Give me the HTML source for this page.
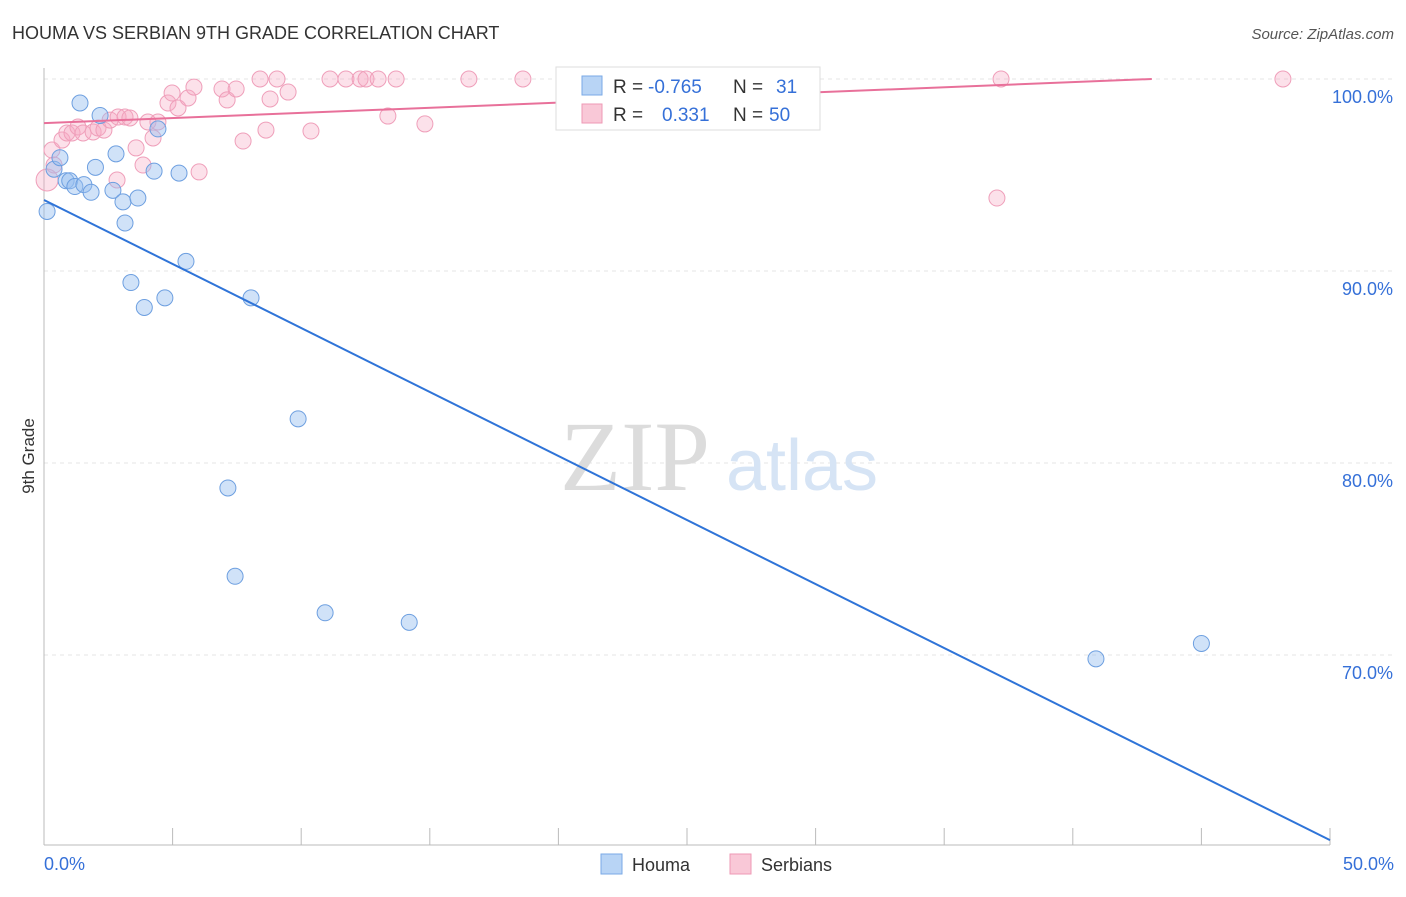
<!DOCTYPE html>
<html><head><meta charset="utf-8"><style>
body{margin:0;background:#fff;font-family:"Liberation Sans",sans-serif;}
svg text{font-family:"Liberation Sans",sans-serif;}
</style></head><body>
<svg width="1406" height="892" xmlns="http://www.w3.org/2000/svg">
<text x="12" y="39" font-size="18" fill="#333">HOUMA VS SERBIAN 9TH GRADE CORRELATION CHART</text>
<text x="1394" y="39" font-size="15" fill="#555" text-anchor="end" font-style="italic">Source: ZipAtlas.com</text>
<g id="grid"></g>
<g><text x="635" y="490" font-size="100" fill="#dcdcdc" text-anchor="middle" style="font-family:'Liberation Serif',serif">ZIP</text><text x="802" y="490" font-size="72" fill="#d6e4f5" text-anchor="middle">atlas</text></g>
<g id="axes"></g>
<g id="pts"></g>
<g id="lines"></g>
<text x="34" y="456" font-size="17" fill="#333" text-anchor="middle" transform="rotate(-90 34 456)">9th Grade</text>
<g>
<rect x="556" y="67" width="264" height="63" fill="#fff" stroke="#ddd"/>
<rect x="582" y="76" width="20" height="19" fill="#b8d4f5" stroke="#7aa9e6"/>
<rect x="582" y="104" width="20" height="19" fill="#f9c8d7" stroke="#ee99b4"/>
<text x="613" y="93" font-size="19" fill="#333">R =</text>
<text x="648" y="93" font-size="19" fill="#3570d8">-0.765</text>
<text x="733" y="93" font-size="19" fill="#333">N =</text>
<text x="776" y="93" font-size="19" fill="#3570d8">31</text>
<text x="613" y="121" font-size="19" fill="#333">R =</text>
<text x="662" y="121" font-size="19" fill="#3570d8">0.331</text>
<text x="733" y="121" font-size="19" fill="#333">N =</text>
<text x="769" y="121" font-size="19" fill="#3570d8">50</text>
</g>
<g>
<rect x="601" y="854" width="21" height="20" fill="#b8d4f5" stroke="#7aa9e6"/>
<text x="632" y="871" font-size="18" fill="#333">Houma</text>
<rect x="730" y="854" width="21" height="20" fill="#f9c8d7" stroke="#ee99b4"/>
<text x="761" y="871" font-size="18" fill="#333">Serbians</text>
</g>
<text x="44" y="870" font-size="18" fill="#3570d8">0.0%</text>
<text x="1394" y="870" font-size="18" fill="#3570d8" text-anchor="end">50.0%</text>
</svg>
<script>
const yTicks=[100,90,80,70];
const xTicks=[0,5,10,15,20,25,30,35,40,45,50];
const houmaX=[0.12,0.39,0.62,0.86,1.0,1.2,1.4,1.55,1.83,2.0,2.18,2.68,2.8,3.07,3.15,3.38,3.65,3.9,4.28,4.43,4.7,5.25,5.52,7.15,7.43,8.05,9.88,10.93,14.2,40.9,45.0];
const houmaY=[93.1,95.3,95.9,94.7,94.7,94.4,98.75,94.5,94.1,95.4,98.1,94.2,96.1,93.6,92.5,89.4,93.8,88.1,95.2,97.4,88.6,95.1,90.5,78.7,74.1,88.6,82.3,72.2,71.7,69.8,70.6];
const serbPx=[47,52,54,62,67,72,78,83,93,98,104,110,118,125,130,136,117,143,148,153,158,168,172,178,188,194,199,222,227,236,243,260,266,270,277,288,311,330,346,360,366,378,388,396,425,469,523,573,716,997,1001,1283];
const serbPy=[180,150,165,140,133,133,127,133,132,128,130,120,117,117,118,148,180,165,122,138,122,103,93,108,98,87,172,89,100,89,141,79,130,99,79,92,131,79,79,79,79,79,116,79,124,79,79,79,79,198,79,79];
const serbX=serbPx.map(p=>+((p-44)/25.72).toFixed(2));
const serbY=serbPy.map(p=>+(100-(p-79)/19.2).toFixed(2));
const houmaFit=[93.7,60.36];
const serbFit=[97.7,100.37];
const X=v=>44+v*25.72, Y=v=>79+(100-v)*19.2;
const NS="http://www.w3.org/2000/svg";
function mk(t,a,p){const e=document.createElementNS(NS,t);for(const k in a)e.setAttribute(k,a[k]);p.appendChild(e);return e;}
const grid=document.getElementById('grid'),axes=document.getElementById('axes');
yTicks.forEach(v=>{
 const l=mk('line',{x1:44,x2:1394,y1:Y(v),y2:Y(v),stroke:'#e4e4e4','stroke-dasharray':'4 4'},grid);
 
 
 const t=mk('text',{x:1393,y:Y(v)+24,'font-size':18,fill:'#3570d8','text-anchor':'end'},axes);
 t.textContent=v.toFixed(1)+'%';
 
 
});
mk('line',{x1:44,x2:44,y1:68,y2:845,stroke:'#bbb'},axes);
mk('line',{x1:44,x2:1330,y1:845,y2:845,stroke:'#bbb'},axes);
xTicks.forEach(v=>{const l=mk('line',{x1:X(v),x2:X(v),y1:828,y2:845,stroke:'#bbb'},axes);
 
 });
const pts=document.getElementById('pts');
serbX.forEach((v,i)=>{const c=mk('circle',{cx:X(v),cy:Y(serbY[i]),r:i==0?11:8,fill:'rgba(246,170,195,0.35)',stroke:'#ef9fba','stroke-width':1},pts);
 
 });
houmaX.forEach((v,i)=>{const c=mk('circle',{cx:X(v),cy:Y(houmaY[i]),r:8,fill:'rgba(150,190,240,0.45)',stroke:'#6d9fe0','stroke-width':1},pts);
 
 });
const lines=document.getElementById('lines');
const hl=mk('line',{x1:X(0),y1:Y(houmaFit[0]),x2:X(50),y2:Y(houmaFit[1]),stroke:'#2f74d8','stroke-width':2},lines);


const xe=(100-serbFit[0])/((serbFit[1]-serbFit[0])/50);
const sl=mk('line',{x1:X(0),y1:Y(serbFit[0]),x2:X(Math.min(50,xe)),y2:Y(Math.min(100,serbFit[1])),stroke:'#e8709a','stroke-width':2},lines);


</script>
</body></html>
